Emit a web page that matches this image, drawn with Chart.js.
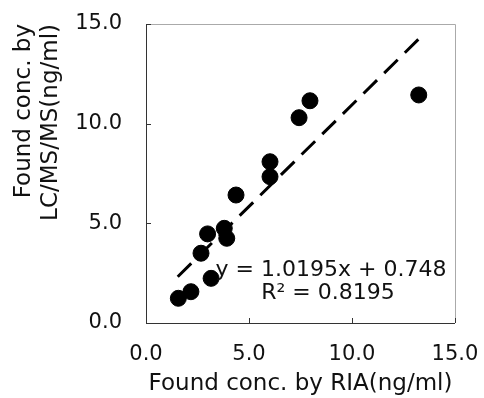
<!DOCTYPE html>
<html>
<head>
<meta charset="utf-8">
<script src="https://cdn.jsdelivr.net/npm/chart.js@4/dist/chart.umd.min.js"></script>
<style>
  html, body { margin: 0; padding: 0; background: #fff; }
  canvas { display: block; }
</style>
</head>
<body>
<canvas id="grafica" width="484" height="398"></canvas>
<script>
// valores
const riaValues = [1.57, 2.18, 3.16, 2.67, 2.99, 3.80, 3.92, 4.37, 6.02, 6.02, 7.43, 7.96, 13.24];
const lcmsValues = [1.24, 1.57, 2.24, 3.50, 4.47, 4.75, 4.25, 6.42, 8.09, 7.34, 10.30, 11.15, 11.44];
const trendX = [1.54, 13.27];
const trendY = [2.32, 14.28];
const axisTicks = [0, 5, 10, 15];
const equationLines = ['y = 1.0195x + 0.748', 'R² = 0.8195'];

const FONT = '"DejaVu Sans", sans-serif';

const puntos = riaValues.map((x, i) => ({ x: x, y: lcmsValues[i] }));
const tendencia = trendX.map((x, i) => ({ x: x, y: trendY[i] }));

// marco, marcas interiores y ecuacion
const marcoPlugin = {
    id: 'marco',
    afterDraw(chart) {
        const ctx = chart.ctx;
        const a = chart.chartArea;
        const sx = chart.scales.x;
        const sy = chart.scales.y;
        ctx.save();
        ctx.lineWidth = 1;
        ctx.strokeStyle = '#aaa';
        ctx.beginPath();
        ctx.moveTo(a.left, a.top + 0.5);
        ctx.lineTo(a.right + 0.5, a.top + 0.5);
        ctx.lineTo(a.right + 0.5, a.bottom);
        ctx.stroke();
        ctx.strokeStyle = '#333';
        ctx.beginPath();
        ctx.moveTo(a.left + 0.5, a.top);
        ctx.lineTo(a.left + 0.5, a.bottom + 0.5);
        ctx.lineTo(a.right, a.bottom + 0.5);
        ctx.stroke();
        ctx.beginPath();
        axisTicks.forEach(t => {
            const px = Math.round(sx.getPixelForValue(t)) + 0.5;
            ctx.moveTo(px, a.bottom);
            ctx.lineTo(px, a.bottom - 5);
            const py = Math.round(sy.getPixelForValue(t)) + 0.5;
            ctx.moveTo(a.left, py);
            ctx.lineTo(a.left + 5, py);
        });
        ctx.stroke();

        ctx.fillStyle = '#111';
        ctx.font = '22px ' + FONT;
        ctx.textAlign = 'center';
        ctx.textBaseline = 'middle';
        const cx = a.left + 185;
        ctx.fillText(equationLines[0], cx, a.bottom - 53);
        ctx.fillText(equationLines[1], cx - 3, a.bottom - 30);
        ctx.restore();
    }
};

new Chart(document.getElementById('grafica'), {
    type: 'scatter',
    data: {
        datasets: [{
            label: 'tendencia',
            type: 'line',
            data: tendencia,
            borderColor: '#000',
            borderWidth: 3,
            borderDash: [19, 10],
            pointRadius: 0,
            fill: false
        }, {
            label: 'datos',
            data: puntos,
            backgroundColor: '#000',
            borderColor: '#000',
            pointRadius: 8,
            pointHoverRadius: 8
        }]
    },
    options: {
        responsive: false,
        animation: false,
        layout: { padding: { top: 24, right: 29, left: 10, bottom: 0 } },
        plugins: {
            legend: { display: false },
            tooltip: { enabled: false }
        },
        scales: {
            x: {
                type: 'linear',
                min: 0,
                max: 15,
                grid: { display: false },
                border: { display: false },
                afterFit(scale) {
                    scale.height = 75;
                    scale.paddingLeft = 0;
                    scale.paddingRight = 0;
                },
                ticks: {
                    stepSize: 5,
                    padding: 11,
                    color: '#111',
                    font: { family: FONT, size: 21 },
                    callback: v => v.toFixed(1)
                },
                title: {
                    display: true,
                    text: 'Found conc. by RIA(ng/ml)',
                    color: '#111',
                    font: { family: FONT, size: 23 },
                    padding: { top: 0, bottom: 0 }
                }
            },
            y: {
                type: 'linear',
                min: 0,
                max: 15,
                grid: { display: false },
                border: { display: false },
                afterFit(scale) {
                    scale.width = 136;
                    scale.paddingTop = 0;
                    scale.paddingBottom = 0;
                },
                ticks: {
                    stepSize: 5,
                    padding: 16,
                    color: '#111',
                    font: { family: FONT, size: 21 },
                    callback: v => v.toFixed(1)
                },
                title: {
                    display: true,
                    text: ['Found conc. by', 'LC/MS/MS(ng/ml)'],
                    align: 'end',
                    color: '#111',
                    font: { family: FONT, size: 23, lineHeight: 1.2 },
                    padding: { top: 0, bottom: 0 }
                }
            }
        }
    },
    plugins: [marcoPlugin]
});
</script>
</body>
</html>
